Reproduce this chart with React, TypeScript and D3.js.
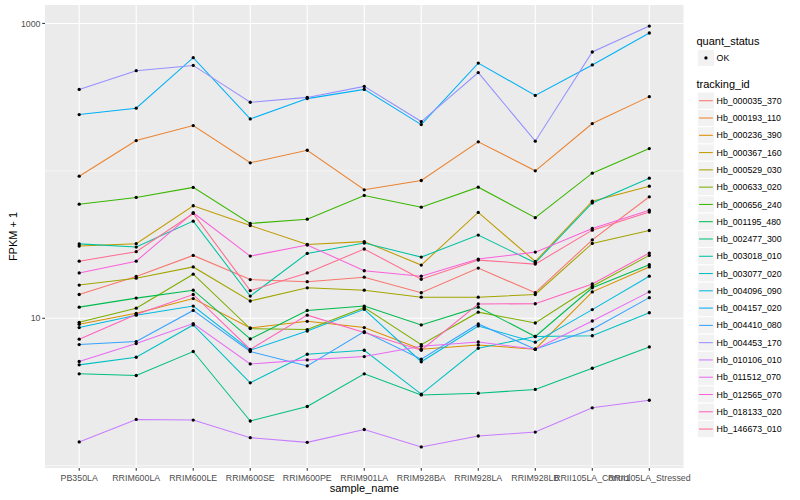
import React from 'react';
import * as d3 from 'd3';

const samples = [
  'PB350LA', 'RRIM600LA', 'RRIM600LE', 'RRIM600SE', 'RRIM600PE', 'RRIM901LA',
  'RRIM928BA', 'RRIM928LA', 'RRIM928LB', 'RRII105LA_Control', 'RRII105LA_Stressed',
];

const trackingIds = [
  'Hb_000035_370', 'Hb_000193_110', 'Hb_000236_390', 'Hb_000367_160', 'Hb_000529_030',
  'Hb_000633_020', 'Hb_000656_240', 'Hb_001195_480', 'Hb_002477_300', 'Hb_003018_010',
  'Hb_003077_020', 'Hb_004096_090', 'Hb_004157_020', 'Hb_004410_080', 'Hb_004453_170',
  'Hb_010106_010', 'Hb_011512_070', 'Hb_012565_070', 'Hb_018133_020', 'Hb_146673_010',
];

// FPKM + 1 per sample (order of `samples`)
const hb_000035_370 = [14.5, 19.2, 26.7, 18.3, 17.7, 19.0, 14.9, 21.9, 14.9, 34.0, 66.7];
const hb_000193_110 = [92.0, 160.5, 202.8, 113.4, 138.0, 74.4, 86.0, 157.3, 100.1, 209.3, 318.7];
const hb_000236_390 = [9.11, 10.8, 13.6, 8.6, 9.54, 8.65, 6.17, 6.59, 6.17, 15.1, 22.3];
const hb_000367_160 = [30.9, 32.05, 58.0, 42.6, 31.7, 33.1, 22.96, 52.2, 24.3, 62.3, 78.7];
const hb_000529_030 = [16.8, 18.7, 22.3, 13.1, 16.1, 15.5, 13.9, 13.9, 14.5, 32.2, 39.4];
const hb_000633_020 = [9.39, 11.7, 19.9, 8.51, 8.38, 11.8, 6.63, 11.0, 9.29, 16.5, 26.7];
const hb_000656_240 = [59.4, 66.0, 77.2, 44.0, 47.0, 68.1, 56.7, 77.5, 48.1, 96.4, 141.7];
const hb_001195_480 = [11.9, 13.7, 15.5, 7.24, 11.3, 12.1, 9.01, 11.9, 7.52, 16.1, 23.1];
const hb_002477_300 = [4.2, 4.09, 5.95, 2.01, 2.52, 4.2, 3.02, 3.1, 3.29, 4.58, 6.39];
const hb_003018_010 = [31.96, 30.4, 45.6, 14.15, 27.55, 32.4, 26.0, 36.65, 23.8, 60.6, 89.2];
const hb_003077_020 = [4.83, 5.44, 9.01, 3.65, 5.7, 6.07, 3.06, 6.26, 7.52, 7.61, 10.9];
const hb_004096_090 = [8.65, 10.5, 12.1, 6.07, 8.2, 11.5, 5.07, 8.87, 6.88, 11.45, 19.3];
const hb_004157_020 = [241, 266, 586, 225, 309, 357, 206, 538, 325, 523, 861];
const hb_004410_080 = [6.63, 6.95, 11.3, 5.95, 4.75, 8.12, 5.28, 9.15, 6.17, 8.42, 13.8];
const hb_004453_170 = [357, 478, 519, 292, 315, 374, 216, 464, 159, 640, 960];
const hb_010106_010 = [1.45, 2.06, 2.04, 1.55, 1.44, 1.76, 1.34, 1.59, 1.69, 2.47, 2.78];
const hb_011512_070 = [5.09, 6.74, 9.21, 4.9, 5.22, 5.5, 6.46, 6.91, 6.17, 9.58, 15.1];
const hb_012565_070 = [20.3, 24.4, 52.0, 26.4, 31.4, 21.0, 19.3, 25.2, 28.1, 40.7, 54.1];
const hb_018133_020 = [7.21, 10.6, 14.5, 6.14, 10.5, 8.0, 6.07, 12.5, 12.55, 17.1, 27.7];
const hb_146673_010 = [24.4, 28.3, 51.4, 15.4, 20.3, 29.5, 18.4, 24.8, 23.3, 39.6, 52.5];

const seriesValues = [
  hb_000035_370, hb_000193_110, hb_000236_390, hb_000367_160, hb_000529_030,
  hb_000633_020, hb_000656_240, hb_001195_480, hb_002477_300, hb_003018_010,
  hb_003077_020, hb_004096_090, hb_004157_020, hb_004410_080, hb_004453_170,
  hb_010106_010, hb_011512_070, hb_012565_070, hb_018133_020, hb_146673_010,
];

const yMajorTicks = [10, 1000];
const yMinorTicks = [1, 100];
const quantStatus = ['OK'];

const palette = [
  '#F8766D', '#EA8331', '#D89000', '#C09B00', '#A3A500', '#7CAE00', '#39B600', '#00BB4E',
  '#00BF7D', '#00C1A3', '#00BFC4', '#00BAE0', '#00B0F6', '#35A2FF', '#9590FF', '#C77CFF',
  '#E76BF3', '#FA62DB', '#FF62BC', '#FF6C91',
];

const FONT = "'Liberation Sans', Arial, Helvetica, sans-serif";

export default function App() {
  const W = 800, H = 500;
  const P = { left: 45, right: 683.5, top: 5, bottom: 468 };

  const x = d3.scalePoint<string>().domain(samples).range([P.left, P.right]).padding(0.6);
  const all = seriesValues.flat();
  const lmin = Math.log10(d3.min(all) as number);
  const lmax = Math.log10(d3.max(all) as number);
  const pad = (lmax - lmin) * 0.05;
  const y = d3.scaleLog().domain([10 ** (lmin - pad), 10 ** (lmax + pad)]).range([P.bottom, P.top]);

  const line = d3.line<number>()
    .x((_, i) => x(samples[i]) as number)
    .y((d) => y(d));

  const keySize = 17.28;
  const legX = 697.3;
  const qsKeyTop = 49.3;
  const tiKeyTop = 92.1;

  return (
    <svg width={W} height={H} style={{ position: 'absolute', left: 0, top: 0, background: '#fff' }}
      fontFamily={FONT}>
      <rect x={0} y={0} width={W} height={H} fill="#fff" />
      {/* panel */}
      <rect x={P.left} y={P.top} width={P.right - P.left} height={P.bottom - P.top} fill="#EBEBEB" />
      {yMinorTicks.map((t) => (
        y(t) >= P.top && y(t) <= P.bottom ? (
          <line key={'mn' + t} x1={P.left} x2={P.right} y1={y(t)} y2={y(t)} stroke="#fff" strokeWidth={0.55} />
        ) : null
      ))}
      {yMajorTicks.map((t) => (
        <line key={'mj' + t} x1={P.left} x2={P.right} y1={y(t)} y2={y(t)} stroke="#fff" strokeWidth={1.1} />
      ))}
      {samples.map((s) => (
        <line key={'vx' + s} x1={x(s)} x2={x(s)} y1={P.top} y2={P.bottom} stroke="#fff" strokeWidth={1.1} />
      ))}

      {/* lines */}
      {seriesValues.map((vals, i) => (
        <path key={'l' + i} d={line(vals) as string} fill="none" stroke={palette[i]} strokeWidth={1.05} />
      ))}
      {/* points */}
      {seriesValues.map((vals, i) =>
        vals.map((v, j) => (
          <circle key={'p' + i + '_' + j} cx={x(samples[j])} cy={y(v)} r={1.65} fill="#000" />
        ))
      )}

      {/* y axis */}
      {yMajorTicks.map((t) => (
        <g key={'yt' + t}>
          <line x1={P.left - 2.75} x2={P.left} y1={y(t)} y2={y(t)} stroke="#333" strokeWidth={1.05} />
          <text x={P.left - 4.5} y={y(t)} dy="0.35em" textAnchor="end" fontSize={8.8} fill="#4D4D4D">{t}</text>
        </g>
      ))}
      {/* x axis */}
      {samples.map((s) => (
        <g key={'xt' + s}>
          <line x1={x(s)} x2={x(s)} y1={P.bottom} y2={P.bottom + 2.75} stroke="#333" strokeWidth={1.05} />
          <text x={x(s)} y={481} textAnchor="middle" fontSize={8.8} fill="#4D4D4D">{s}</text>
        </g>
      ))}
      <text x={(P.left + P.right) / 2} y={491.5} textAnchor="middle" fontSize={11} fill="#000">sample_name</text>
      <text transform={`translate(16.5, ${(P.top + P.bottom) / 2}) rotate(-90)`} textAnchor="middle" fontSize={11} fill="#000">FPKM + 1</text>

      {/* legend: quant_status */}
      <text x={legX - 0.8} y={44.5} fontSize={11} fill="#000">quant_status</text>
      {quantStatus.map((q, i) => (
        <g key={'qs' + q}>
          <rect x={legX} y={qsKeyTop + i * keySize} width={keySize} height={keySize} fill="#F2F2F2" stroke="#fff" strokeWidth={1} />
          <circle cx={legX + keySize / 2} cy={qsKeyTop + i * keySize + keySize / 2} r={1.65} fill="#000" />
          <text x={legX + keySize + 2} y={qsKeyTop + i * keySize + keySize / 2} dy="0.35em" fontSize={8.8} fill="#000">{q}</text>
        </g>
      ))}

      {/* legend: tracking_id */}
      <text x={legX - 0.8} y={88} fontSize={11} fill="#000">tracking_id</text>
      {trackingIds.map((id, i) => {
        const top = tiKeyTop + i * keySize;
        const cy = top + keySize / 2;
        return (
          <g key={'ti' + id}>
            <rect x={legX} y={top} width={keySize} height={keySize} fill="#F2F2F2" stroke="#fff" strokeWidth={1} />
            <line x1={legX + keySize * 0.1} x2={legX + keySize * 0.9} y1={cy} y2={cy} stroke={palette[i]} strokeWidth={1.05} />
            <text x={legX + keySize + 2} y={cy} dy="0.35em" fontSize={8.8} fill="#000">{id}</text>
          </g>
        );
      })}
    </svg>
  );
}
